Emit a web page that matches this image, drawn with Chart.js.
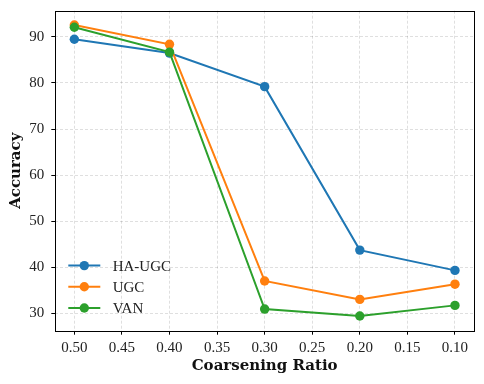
<!DOCTYPE html>
<html><head><meta charset="utf-8">
<script src="https://cdn.jsdelivr.net/npm/chart.js@4/dist/chart.umd.min.js"></script>
<style>html,body{margin:0;padding:0;background:#fff}#wrap{width:484px;height:384px}</style>
</head><body><div id="wrap"><canvas id="c" width="484" height="384"></canvas></div>
<script>
const ratios = [0.50, 0.40, 0.30, 0.20, 0.10];
const haUgc = [89.5, 86.5, 79.2, 43.7, 39.3];
const ugc = [92.6, 88.4, 37.0, 33.0, 36.3];
const van = [92.1, 86.7, 30.9, 29.4, 31.7];
const xTicks = [0.50, 0.45, 0.40, 0.35, 0.30, 0.25, 0.20, 0.15, 0.10];
const yTicks = [30, 40, 50, 60, 70, 80, 90];
const seriesNames = ['HA-UGC', 'UGC', 'VAN'];
const colors = ['#1f77b4', '#ff7f0e', '#2ca02c'];

const tickFont = {family: 'Liberation Serif', size: 15};
const titleFont = {family: 'DejaVu Serif', size: 15, weight: 'bold'};

function mk(i, vals) {
  return {
    label: seriesNames[i],
    data: ratios.map((r, k) => ({x: r, y: vals[k]})),
    borderColor: colors[i], backgroundColor: colors[i],
    pointBackgroundColor: colors[i], pointBorderColor: colors[i],
    borderWidth: 2, pointRadius: 4.7, pointBorderWidth: 0, pointHoverRadius: 4.7,
    order: 3 - i, tension: 0
  };
}

const boxAndLegend = {
  id: 'boxAndLegend',
  afterDraw(chart) {
    const {ctx, chartArea: a} = chart;
    ctx.save();
    ctx.strokeStyle = '#000'; ctx.lineWidth = 1;
    ctx.strokeRect(Math.round(a.left) + 0.5, Math.round(a.top) + 0.5,
      Math.round(a.right - a.left), Math.round(a.bottom - a.top));
    const ds = chart.data.datasets;
    ctx.font = '15px "Liberation Serif"';
    ctx.textBaseline = 'middle';
    ds.forEach((d, i) => {
      const y = a.bottom - 22.7 - (ds.length - 1 - i) * 21.2;
      const x0 = a.left + 13, x1 = a.left + 45;
      ctx.strokeStyle = d.borderColor; ctx.lineWidth = 2;
      ctx.beginPath(); ctx.moveTo(x0, y); ctx.lineTo(x1, y); ctx.stroke();
      ctx.fillStyle = d.borderColor;
      ctx.beginPath(); ctx.arc((x0 + x1) / 2, y, 4.7, 0, Math.PI * 2); ctx.fill();
      ctx.fillStyle = '#222';
      ctx.fillText(d.label, a.left + 57.4, y + 1);
    });
    ctx.restore();
  }
};

new Chart(document.getElementById('c'), {
  type: 'line',
  data: {datasets: [mk(0, haUgc), mk(1, ugc), mk(2, van)]},
  options: {
    responsive: false, animation: false, devicePixelRatio: 1,
    layout: {padding: {top: 10.7, right: 10, left: 0, bottom: 0}},
    plugins: {legend: {display: false}, tooltip: {enabled: false}},
    scales: {
      x: {
        type: 'linear', reverse: true, min: 0.08, max: 0.52,
        afterBuildTicks: s => { s.ticks = xTicks.map(v => ({value: v})); },
        afterFit: s => { s.height = 53.3; s.paddingLeft = 0; s.paddingRight = 0; },
        ticks: {font: tickFont, color: '#222', padding: 4, maxRotation: 0, autoSkip: false,
          callback: v => Number(v).toFixed(2)},
        grid: {color: 'rgba(0,0,0,0.16)', lineWidth: 0.8, tickColor: '#000', tickLength: 4, tickWidth: 1},
        border: {display: false, dash: [3, 2]},
        title: {display: true, text: 'Coarsening Ratio', font: titleFont, color: '#111', padding: {top: 4, bottom: 9}}
      },
      y: {
        type: 'linear', min: 26.2, max: 95.7,
        afterBuildTicks: s => { s.ticks = yTicks.map(v => ({value: v})); },
        afterFit: s => { s.width = 55.3; s.paddingTop = 0; s.paddingBottom = 0; },
        ticks: {font: tickFont, color: '#222', padding: 7, callback: v => String(v)},
        grid: {color: 'rgba(0,0,0,0.16)', lineWidth: 0.8, tickColor: '#000', tickLength: 4, tickWidth: 1},
        border: {display: false, dash: [3, 2]},
        title: {display: true, text: 'Accuracy', font: titleFont, color: '#111', padding: {top: 7, bottom: 4}}
      }
    }
  },
  plugins: [boxAndLegend]
});
</script></body></html>
